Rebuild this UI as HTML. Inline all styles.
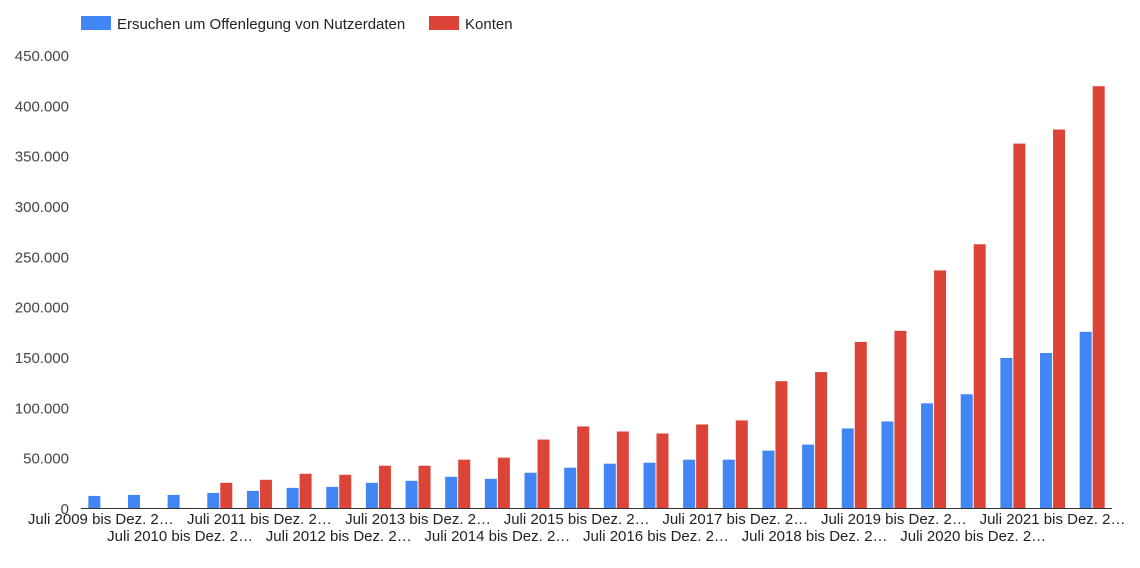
<!DOCTYPE html>
<html><head><meta charset="utf-8"><style>
body{margin:0;background:#fff;font-family:"Liberation Sans",Arial,sans-serif;}
svg text{font-family:"Liberation Sans",Arial,sans-serif;}
</style></head><body>
<svg id="chart" width="1140" height="563" xmlns="http://www.w3.org/2000/svg">
<g>
<rect x="81" y="16" width="30" height="14" fill="#4285f4"/>
<text x="117" y="29" font-size="15" fill="#222">Ersuchen um Offenlegung von Nutzerdaten</text>
<rect x="429" y="16" width="30" height="14" fill="#db4437"/>
<text x="465" y="29" font-size="15" fill="#222">Konten</text>
</g>
<g id="yaxis"></g>
<g id="bars"></g>
<g id="xaxis"></g>
</svg>
<script>
const categories=[];
for(let y=2009;y<=2022;y++){ if(y>2009) categories.push("Jan. "+y+" bis Juni "+y); if(y<2022) categories.push("Juli "+y+" bis Dez. "+y); }
const requests=[12000,13000,13000,15000,17000,20000,21000,25000,27000,31000,29000,35000,40000,44000,45000,48000,48000,57000,63000,79000,86000,104000,113000,149000,154000,175000];
const accounts=[0,0,0,25000,28000,34000,33000,42000,42000,48000,50000,68000,81000,76000,74000,83000,87000,126000,135000,165000,176000,236000,262000,362000,376000,419000];
const yTicks=[0,50000,100000,150000,200000,250000,300000,350000,400000,450000];
const yTickLabels=["0","50.000","100.000","150.000","200.000","250.000","300.000","350.000","400.000","450.000"];
const NS="http://www.w3.org/2000/svg";
const L=81,R=1112,T=55,B=508,MAX=450000;
const y=v=>B-(v/MAX)*(B-T);
const gw=(R-L)/categories.length;
const cx=i=>L+(i+0.5)*gw;
function mk(tag,attrs,parent,txt){const e=document.createElementNS(NS,tag);for(const k in attrs)e.setAttribute(k,attrs[k]);if(txt!==undefined)e.textContent=txt;parent.appendChild(e);return e;}
const ya=document.getElementById('yaxis');
yTicks.forEach((t,i)=>{
 const e=mk('text',{x:69,y:y(t)+6,'text-anchor':'end','font-size':15,fill:'#444'},ya,yTickLabels[i]);
 
 
});
const bars=document.getElementById('bars');
categories.forEach((c,i)=>{
 if(requests[i]>0){const r=mk('rect',{x:cx(i)-12.5,y:y(requests[i]),width:12,height:B-y(requests[i]),fill:'#4285f4'},bars);
 
 }
 if(accounts[i]>0){const r=mk('rect',{x:cx(i)+0.5,y:y(accounts[i]),width:12,height:B-y(accounts[i]),fill:'#db4437'},bars);
 
 }
});
const xa=document.getElementById('xaxis');
const base=mk('line',{x1:L,x2:R,y1:B+0.5,y2:B+0.5,stroke:'#333','stroke-width':1},xa);


categories.forEach((c,i)=>{
 if(i%2!==0) return;
 const row=(i/2)%2;
 const lbl=c.length>20?c.slice(0,20)+"…":c;
 const e=mk('text',{x:cx(i),y:row?541:524,'text-anchor':'middle','font-size':15,fill:'#222'},xa,lbl);
 
 
});
</script>
</body></html>
